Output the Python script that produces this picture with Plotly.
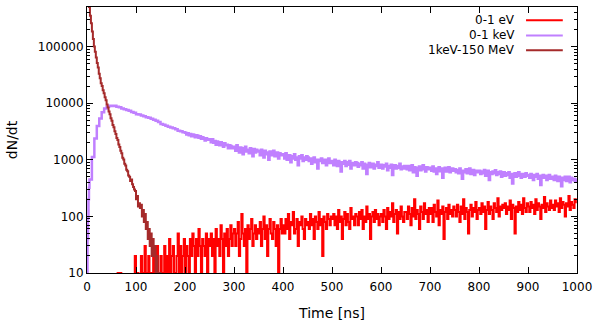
import math
import plotly.graph_objects as go

# ---------------- data ----------------
series_names = ["0-1 eV", "0-1 keV", "1keV-150 MeV"]
series_colors = ["#ff0000", "#c080ff", "#a52a2a"]

# 0-1 eV : 2.5 ns bins from 50 ns
ev_time = [50 + 2.5 * i for i in range(380)]
ev_counts = [
    0, 0, 0, 0, 0, 10, 0, 10, 0, 0, 0, 0, 0, 0, 0, 0, 0, 0, 0, 20,
    0, 10, 0, 0, 20, 10, 0, 30, 0, 10, 20, 0, 10, 0, 20, 10, 0, 30, 10, 0,
    20, 0, 10, 30, 0, 20, 10, 40, 0, 20, 30, 10, 0, 20, 50, 10, 30, 0, 20, 40,
    10, 30, 20, 0, 40, 20, 50, 30, 10, 40, 20, 60, 30, 10, 40, 30, 20, 50, 10, 40,
    30, 50, 20, 40, 10, 60, 30, 40, 20, 70, 40, 10, 50, 30, 60, 20, 40, 70, 30, 50,
    60, 30, 50, 80, 20, 40, 110, 50, 30, 60, 10, 70, 40, 60, 90, 30, 50, 70, 40, 60,
    50, 80, 30, 60, 100, 40, 70, 20, 60, 90, 50, 40, 80, 60, 30, 70, 10, 60, 90, 50,
    70, 50, 90, 60, 110, 40, 80, 70, 120, 50, 60, 90, 30, 80, 70, 100, 60, 40, 90, 70,
    80, 60, 110, 70, 90, 40, 100, 80, 60, 120, 70, 90, 20, 100, 80, 60, 110, 90, 70, 100,
    90, 110, 70, 100, 60, 130, 80, 100, 40, 90, 120, 70, 110, 80, 60, 140, 90, 100, 70, 110,
    100, 70, 120, 90, 130, 60, 100, 80, 150, 90, 110, 40, 100, 120, 80, 130, 90, 110, 70, 100,
    110, 80, 130, 100, 60, 140, 90, 120, 100, 170, 80, 110, 130, 50, 120, 90, 150, 100, 80, 120,
    120, 90, 150, 110, 70, 140, 100, 200, 90, 130, 110, 60, 150, 120, 90, 170, 110, 130, 80, 140,
    110, 140, 80, 160, 120, 100, 190, 70, 130, 110, 150, 40, 120, 140, 90, 160, 110, 130, 100, 150,
    130, 100, 160, 120, 80, 150, 110, 200, 90, 140, 120, 50, 130, 160, 100, 140, 120, 180, 90, 130,
    140, 110, 170, 120, 150, 60, 130, 180, 110, 150, 130, 90, 170, 140, 120, 210, 100, 150, 130, 160,
    140, 170, 110, 150, 130, 190, 90, 160, 140, 50, 150, 120, 180, 130, 160, 110, 210, 140, 120, 170,
    150, 120, 180, 140, 160, 110, 200, 130, 170, 150, 90, 160, 140, 220, 120, 170, 150, 130, 190, 140,
    160, 130, 190, 150, 170, 120, 210, 140, 180, 160, 100, 170, 150, 230, 130, 180, 160, 140, 200, 170,
]

# 0-1 keV : 1 ns bins to 5 ns, 5 ns bins to 200 ns, then 2.5 ns bins
kev_time = [0, 1, 2, 3, 4] + list(range(5, 200, 5)) + [200 + 2.5 * i for i in range(320)]
kev_counts = [
    10, 40, 95, 200, 320,
    450, 1120, 2380, 3950, 5350, 6900, 8050, 8650, 9050, 8950,
    9000, 8650, 8450, 8050, 7850, 7550, 7350, 6950, 6750, 6350,
    6300, 6050, 5900, 5650, 5500, 5300, 5100, 4900, 4650, 4300,
    4150, 4000, 3850, 3700, 3600, 3450, 3250, 3200, 3050,
    3000, 2800, 2950, 2700, 2850, 2600, 2800, 2750, 2500, 2700, 2650, 2450, 2600, 2350, 2500, 2400, 2200, 2400, 2250, 2300,
    2250, 2050, 2300, 2000, 2150, 1850, 2100, 2000, 1800, 2050, 1900, 1700, 1950, 1800, 1850, 1600, 1800, 1750, 1600, 1700,
    1700, 1450, 1800, 1500, 1350, 1650, 1550, 1250, 1600, 1700, 1400, 1500, 1300, 1600, 1450, 1150, 1550, 1350, 1500, 1400,
    1450, 1200, 1500, 1300, 1100, 1450, 1250, 1350, 1000, 1400, 1200, 1300, 1450, 1150, 1250, 1350, 1050, 1300, 1200, 1250,
    1250, 1050, 1300, 1000, 1150, 1200, 900, 1150, 1050, 1250, 1000, 1100, 800, 1150, 1050, 1200, 950, 1100, 1000, 1150,
    1100, 950, 1050, 850, 1000, 1100, 900, 1000, 700, 1000, 950, 1050, 880, 950, 1000, 800, 950, 1050, 880, 920,
    950, 800, 1000, 850, 780, 950, 880, 620, 900, 850, 950, 780, 900, 820, 950, 700, 880, 850, 800, 900,
    880, 750, 850, 800, 900, 700, 850, 780, 560, 820, 880, 740, 800, 850, 700, 820, 780, 900, 720, 800,
    820, 700, 800, 760, 850, 650, 780, 720, 820, 540, 760, 800, 700, 780, 720, 850, 680, 760, 700, 780,
    760, 680, 780, 650, 720, 800, 600, 740, 700, 520, 720, 760, 650, 720, 800, 680, 620, 740, 700, 680,
    720, 640, 760, 620, 700, 560, 680, 740, 630, 700, 480, 680, 720, 620, 680, 740, 600, 660, 700, 640,
    680, 600, 660, 580, 700, 620, 460, 640, 600, 680, 580, 640, 700, 560, 620, 660, 540, 640, 600, 620,
    640, 560, 620, 580, 660, 520, 600, 640, 440, 600, 560, 620, 580, 650, 540, 600, 560, 620, 500, 580,
    600, 520, 580, 540, 600, 480, 560, 380, 540, 580, 500, 560, 600, 520, 480, 560, 540, 500, 580, 520,
    540, 480, 560, 500, 440, 540, 500, 560, 460, 520, 360, 500, 540, 480, 520, 440, 500, 540, 460, 500,
    500, 440, 520, 460, 420, 500, 460, 340, 480, 440, 500, 420, 460, 500, 400, 480, 440, 460, 420, 470,
]

# 1keV-150 MeV : 2 ns bins
mev_time = list(range(0, 151, 2))
mev_counts = [
    950000, 690000, 500000, 352000, 258000, 184000, 136000, 100000, 81000, 64000,
    51000, 42500, 33000, 27500, 22500, 20200, 17000, 15000, 12700, 11300,
    9500, 8400, 7100, 6400, 5400, 4900, 4100, 3750, 3200, 2850,
    2420, 2230, 1870, 1680, 1450, 1310, 1090, 1010, 850, 790,
    670, 630, 530, 500, 420, 450, 370, 330, 300, 280,
    200, 230, 150, 170, 140, 160, 100, 130, 80, 110,
    60, 80, 40, 60, 30, 50, 20, 40, 20, 30,
    10, 20, 10, 0, 10, 0,
]

x_ticks = list(range(0, 1001, 100))
y_ticks = [10, 100, 1000, 10000, 100000]
y_ticktext = ["10", "100", "1000", "10000", "100000"]
y_max = 500000

# ---------------- figure ----------------
def for_log(values):
    # empty bins (0 counts) cannot sit on a log axis: push them below the frame
    return [v if v > 0 else 1 for v in values]

fig = go.Figure()
widths = [2, 2.5, 2]
for name, color, w, t, c in zip(series_names, series_colors, widths,
                                [ev_time, kev_time, mev_time],
                                [ev_counts, kev_counts, mev_counts]):
    fig.add_trace(go.Scatter(x=t, y=for_log(c), mode="lines", name=name,
                             line=dict(color=color, width=w, shape="hv"),
                             showlegend=False))

minor_vals = [m * 10 ** d for d in range(1, 6) for m in range(2, 10)]

fig.update_layout(
    width=600, height=321,
    margin=dict(l=87, r=23, t=7, b=48),
    paper_bgcolor="white", plot_bgcolor="white",
    font=dict(family="DejaVu Sans", size=12, color="black"),
    showlegend=False,
    xaxis=dict(range=[0, 1000], tickmode="array", tickvals=x_ticks,
               ticks="inside", ticklen=6, tickcolor="black", ticklabelstandoff=3,
               showline=True, linecolor="black", linewidth=1, mirror="ticks",
               showgrid=False, zeroline=False, automargin=False,
               title=dict(text="Time [ns]", standoff=14)),
    yaxis=dict(type="log", range=[1, math.log10(y_max)], tickmode="array",
               tickvals=y_ticks, ticktext=y_ticktext,
               ticks="inside", ticklen=6, tickcolor="black",
               minor=dict(tickmode="array", tickvals=minor_vals, ticks="inside",
                          ticklen=3, tickcolor="black", showgrid=False),
               showline=True, linecolor="black", linewidth=1, mirror="ticks",
               showgrid=False, zeroline=False, automargin=False,
               title=dict(text="dN/dt", standoff=16)),
)

# gnuplot-style key: text right-aligned, line sample on its right
key_y = [0.950, 0.893, 0.837]
for name, color, ky in zip(series_names, series_colors, key_y):
    fig.add_annotation(x=0.878, y=ky, xref="paper", yref="paper", text=name,
                       showarrow=False, xanchor="right", yanchor="middle",
                       font=dict(size=12, color="black"))
    fig.add_shape(type="line", xref="paper", yref="paper", x0=0.896, x1=0.971,
                  y0=ky, y1=ky, line=dict(color=color, width=2))

fig.write_html("out.html")
